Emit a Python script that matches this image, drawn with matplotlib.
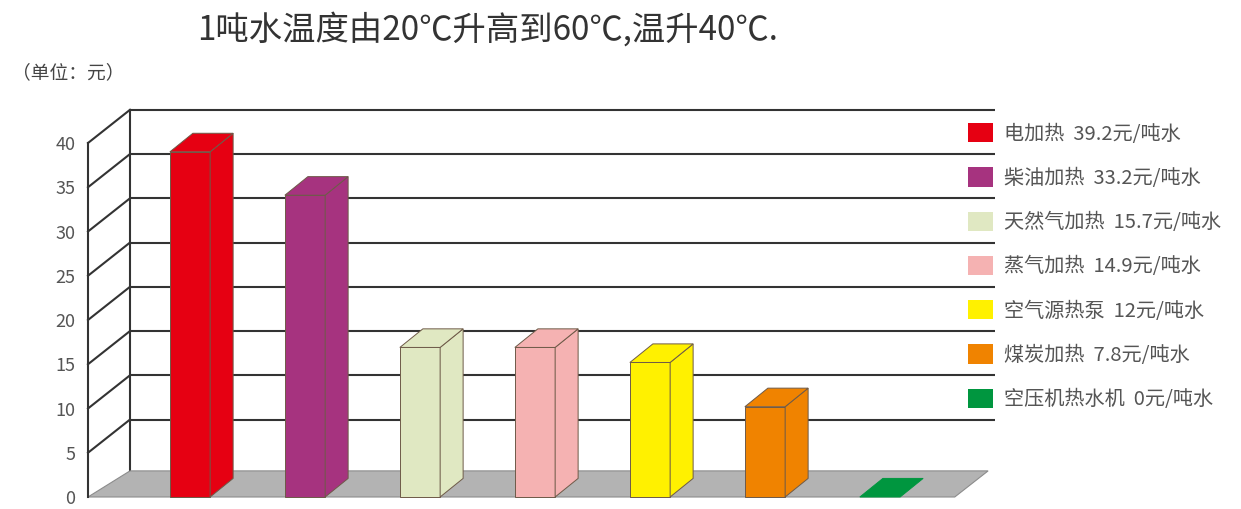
import numpy as np
import matplotlib
matplotlib.use("Agg")
import matplotlib.pyplot as plt
from matplotlib.patches import Polygon, Patch

plt.rcParams['font.family'] = ['Noto Sans CJK SC', 'DejaVu Sans']
plt.rcParams['axes.unicode_minus'] = False

# 数据
names = ['电加热', '柴油加热', '天然气加热', '蒸气加热', '空气源热泵', '煤炭加热', '空压机热水机']
price_text = ['39.2', '33.2', '15.7', '14.9', '12', '7.8', '0']
heights = [39.0, 34.1, 16.9, 16.9, 15.2, 10.2, 0.0]   # 图中柱子实际画出的高度
colors = ['#e60012', '#a6337f', '#e0e8c2', '#f5b2b2', '#fff100', '#f08300', '#00963f']
yticks = [0, 5, 10, 15, 20, 25, 30, 35, 40]

title = '1吨水温度由20℃升高到60℃,温升40℃.'
unit = '（单位：元）'

# 伪3D参数 (x:类别单位, y:数值单位)
bar_w = 0.35
bar_dx, bar_dy = 0.20, 2.1
front_x = -0.887
back_x = -0.522
wall_dy = 3.75
floor_dy = 2.95
floor_right = 6.65
floor_rdx = 0.29
grid_right = 7.0

fig = plt.figure(figsize=(12.41, 5.09), dpi=100)
ax = fig.add_axes([0, 0, 1, 1])
ax.set_xlim(-190 / 115, (1241 - 190) / 115)
ax.set_ylim(-12 / 8.85, 497 / 8.85)

grid_c = '#333333'
# 背景墙横线
for v in yticks[1:]:
    ax.plot([back_x, grid_right], [v + wall_dy, v + wall_dy], color=grid_c, lw=1.5, zorder=1,
            solid_capstyle='butt')
# 背景墙竖线
ax.plot([back_x, back_x], [floor_dy, 40 + wall_dy], color=grid_c, lw=1.5, zorder=1)
# 斜线
for v in yticks[1:]:
    ax.plot([front_x, back_x], [v, v + wall_dy], color=grid_c, lw=1.5, zorder=1)

# 地板
floor = Polygon([(front_x, 0), (floor_right, 0), (floor_right + floor_rdx, floor_dy),
                 (back_x, floor_dy)], closed=True, facecolor='#b3b3b3',
                edgecolor='#8c8c8c', lw=0.8, zorder=2)
ax.add_patch(floor)

# 左侧坐标轴
for s in ['top', 'right', 'bottom']:
    ax.spines[s].set_visible(False)
ax.spines['left'].set_position(('data', front_x))
ax.spines['left'].set_bounds(0, 40)
ax.spines['left'].set_color(grid_c)
ax.spines['left'].set_linewidth(1.5)
ax.spines['left'].set_zorder(2)
ax.set_xticks([])
ax.set_yticks(yticks)
ax.tick_params(axis='y', length=0, pad=9, labelsize=13, labelcolor='#555555')

# 柱子
xs = np.arange(len(heights))
edge_c = '#6e5a48'
for i, (x, h, c) in enumerate(zip(xs, heights, colors)):
    z = 3 + i
    if h > 0:
        ax.bar(x, h, width=bar_w, color=c, edgecolor=edge_c, lw=0.7, zorder=z)
        side = Polygon([(x + bar_w / 2, 0), (x + bar_w / 2 + bar_dx, bar_dy),
                        (x + bar_w / 2 + bar_dx, h + bar_dy), (x + bar_w / 2, h)],
                       closed=True, facecolor=c, edgecolor=edge_c, lw=0.7, zorder=z)
        ax.add_patch(side)
    top = Polygon([(x - bar_w / 2, h), (x - bar_w / 2 + bar_dx, h + bar_dy),
                   (x + bar_w / 2 + bar_dx, h + bar_dy), (x + bar_w / 2, h)],
                  closed=True, facecolor=c, edgecolor=edge_c if h > 0 else c, lw=0.7, zorder=z)
    ax.add_patch(top)

# 图例
labels = [f'{n}  {p}元/吨水' for n, p in zip(names, price_text)]
handles = [Patch(facecolor=c, edgecolor='none') for c in colors]
leg = ax.legend(handles, labels, loc='upper left', bbox_to_anchor=(968 / 1241, 1 - 123 / 509),
                bbox_transform=fig.transFigure, frameon=False, fontsize=14.5,
                handlelength=1.25, handleheight=1.1, handletextpad=0.55,
                labelspacing=1.13, borderpad=0, borderaxespad=0)
for t in leg.get_texts():
    t.set_color('#555555')

# 标题与单位
fig.text(197 / 1241, 1 - 30 / 509, title, fontsize=24, color='#333333', va='center', ha='left')
fig.text(12 / 1241, 1 - 73 / 509, unit, fontsize=13.5, color='#444444', va='center', ha='left')

fig.savefig('out.png', dpi=100, facecolor='white')
